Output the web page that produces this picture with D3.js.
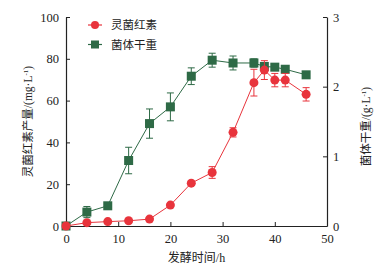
<!DOCTYPE html>
<html>
<head>
<meta charset="utf-8">
<script src="https://cdn.jsdelivr.net/npm/d3@7"></script>
<style>
  body { margin: 0; background: #fff; }
  svg text { fill: #222; }
</style>
</head>
<body>
<div id="chart"></div>
<script>
// fermentation time (h)
var timeRed = [0, 4, 8, 12, 16, 20, 24, 28, 32, 36, 38, 40, 42, 46];
var prodigiosin = [0, 1.6, 2.1, 2.5, 3.3, 10, 20.5, 25.6, 44.8, 68.6, 74.6, 69.8, 69.8, 63];
var prodigiosinErr = [0, 0.5, 0.5, 0.5, 0.5, 0.6, 1, 2.8, 2.2, 6.4, 4.5, 3.2, 3.2, 3.2];

var timeGreen = [0, 4, 8, 12, 16, 20, 24, 28, 32, 36, 38, 40, 42, 46];
var dryWeight = [0, 0.2, 0.29, 0.94, 1.47, 1.71, 2.15, 2.38, 2.34, 2.34, 2.29, 2.28, 2.25, 2.17];
var dryWeightErr = [0, 0.08, 0.04, 0.19, 0.21, 0.2, 0.12, 0.1, 0.1, 0.06, 0.05, 0.03, 0.04, 0.04];

var xTicks = [0, 10, 20, 30, 40, 50];
var yLeftTicks = [0, 20, 40, 60, 80, 100];
var yRightTicks = [0, 1, 2, 3];

var red = "#e8343c", green = "#2e6a46";
var serif = "'Liberation Serif', 'DejaVu Serif', serif";
var cjk = "'Noto Sans CJK SC', sans-serif";

var svg = d3.select("#chart").append("svg")
  .attr("width", 381)
  .attr("height", 269);

var margin = {top: 17, right: 54, bottom: 43, left: 66};
var width = 381 - margin.left - margin.right;
var height = 269 - margin.top - margin.bottom;

var g = svg.append("g")
  .attr("transform", "translate(" + margin.left + "," + margin.top + ")");

var x = d3.scaleLinear().domain([0, 50]).range([0, width]);
var yL = d3.scaleLinear().domain([0, 100]).range([height, 0]);
var yR = d3.scaleLinear().domain([0, 3]).range([height, 0]);

function styleAxis(sel) {
  sel.attr("font-family", null).attr("font-size", null);
  sel.selectAll("path").attr("stroke", "#222").attr("stroke-width", 1.2);
  sel.selectAll("line").attr("stroke", "#222").attr("stroke-width", 1);
  sel.selectAll("text").style("font-size", "12.5px").style("fill", "#222")
    .style("font-family", serif);
}

g.append("g")
  .attr("transform", "translate(0," + height + ")")
  .call(d3.axisBottom(x).tickValues(xTicks).tickSize(-4).tickSizeOuter(0).tickPadding(8))
  .call(styleAxis);

g.append("g")
  .call(d3.axisLeft(yL).tickValues(yLeftTicks).tickSize(-4).tickSizeOuter(0).tickPadding(7))
  .call(styleAxis);

g.append("g")
  .attr("transform", "translate(" + width + ",0)")
  .call(d3.axisRight(yR).tickValues(yRightTicks).tickFormat(d3.format("d"))
    .tickSize(-4).tickSizeOuter(0).tickPadding(6))
  .call(styleAxis);

// series drawing
function drawSeries(xs, ys, errs, yScale, color, shape) {
  var pts = xs.map(function(d, i) { return {x: d, y: ys[i], e: errs[i]}; });
  var line = d3.line()
    .x(function(d) { return x(d.x); })
    .y(function(d) { return yScale(d.y); });
  var s = g.append("g");
  s.append("path")
    .datum(pts)
    .attr("d", line)
    .attr("fill", "none")
    .attr("stroke", color)
    .attr("stroke-width", 1);
  var eb = s.selectAll(".err").data(pts.filter(function(d) { return d.e > 0; }))
    .enter().append("g")
    .attr("stroke", color)
    .attr("stroke-width", 1);
  eb.append("line")
    .attr("x1", function(d) { return x(d.x); })
    .attr("x2", function(d) { return x(d.x); })
    .attr("y1", function(d) { return yScale(d.y - d.e); })
    .attr("y2", function(d) { return yScale(d.y + d.e); });
  [-1, 1].forEach(function(sg) {
    eb.append("line")
      .attr("x1", function(d) { return x(d.x) - 3.5; })
      .attr("x2", function(d) { return x(d.x) + 3.5; })
      .attr("y1", function(d) { return yScale(d.y + sg * d.e); })
      .attr("y2", function(d) { return yScale(d.y + sg * d.e); });
  });
  if (shape === "circle") {
    s.selectAll("circle").data(pts).enter().append("circle")
      .attr("cx", function(d) { return x(d.x); })
      .attr("cy", function(d) { return yScale(d.y); })
      .attr("r", 4.5)
      .attr("fill", color);
  } else {
    s.selectAll("rect").data(pts).enter().append("rect")
      .attr("x", function(d) { return x(d.x) - 4.5; })
      .attr("y", function(d) { return yScale(d.y) - 4.5; })
      .attr("width", 9)
      .attr("height", 9)
      .attr("fill", color);
  }
}

drawSeries(timeGreen, dryWeight, dryWeightErr, yR, green, "square");
drawSeries(timeRed, prodigiosin, prodigiosinErr, yL, red, "circle");

// legend
var legendItems = [
  {name: "灵菌红素", color: red, shape: "circle"},
  {name: "菌体干重", color: green, shape: "square"}
];
var lg = svg.append("g").attr("transform", "translate(88,25)");
legendItems.forEach(function(d, i) {
  var row = lg.append("g").attr("transform", "translate(0," + (i * 19.5) + ")");
  row.append("line").attr("x1", 0).attr("x2", 14).attr("stroke", d.color).attr("stroke-width", 1.2);
  if (d.shape === "circle") {
    row.append("circle").attr("cx", 7).attr("r", 4).attr("fill", d.color);
  } else {
    row.append("rect").attr("x", 3).attr("y", -4).attr("width", 8).attr("height", 8).attr("fill", d.color);
  }
  row.append("text").style("font-family", cjk).attr("x", 23).attr("dy", "0.35em")
    .style("font-size", "11.5px").text(d.name);
});

// axis titles
function title(sel, cn, unit) {
  sel.append("tspan").style("font-family", cjk).text(cn);
  sel.append("tspan").style("font-family", serif).text(unit);
}

var lt = svg.append("text")
  .attr("transform", "translate(28," + (margin.top + height / 2) + ") rotate(-90)")
  .attr("text-anchor", "middle")
  .attr("dy", "0.35em")
  .style("font-size", "11.5px");
title(lt, "灵菌红素产量", "/(mg·L");
lt.append("tspan").style("font-family", serif).attr("baseline-shift", "super").style("font-size", "7px").text("-1");
lt.append("tspan").style("font-family", serif).text(")");

var rt = svg.append("text")
  .attr("transform", "translate(366," + (margin.top + height / 2 + 5) + ") rotate(-90)")
  .attr("text-anchor", "middle")
  .attr("dy", "0.35em")
  .style("font-size", "11.5px");
title(rt, "菌体干重", "/(g·L");
rt.append("tspan").style("font-family", serif).attr("baseline-shift", "super").style("font-size", "7px").text("-1");
rt.append("tspan").style("font-family", serif).text(")");

var bt = svg.append("text")
  .attr("x", margin.left + width / 2)
  .attr("y", 258)
  .attr("text-anchor", "middle")
  .attr("dy", "0.35em")
  .style("font-size", "12px");
title(bt, "发酵时间", "/h");
</script>
</body>
</html>
